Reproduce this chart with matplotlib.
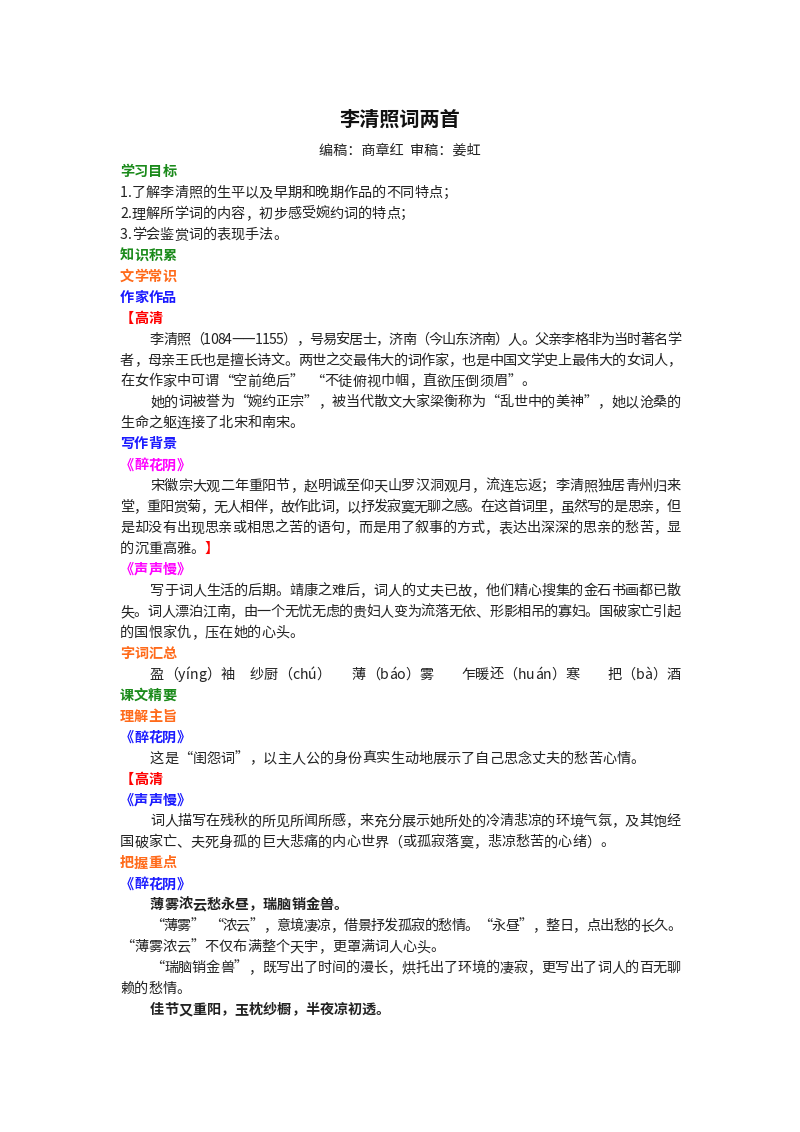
import matplotlib
matplotlib.use("Agg")
import matplotlib.pyplot as plt

plt.rcParams["font.family"] = ["Noto Sans CJK SC", "DejaVu Sans"]

GREEN = "#1a8a1a"
ORANGE = "#ff6a1a"
BLUE = "#1a1aff"
RED = "#ff0000"
MAGENTA = "#ff00ff"
BLACK = "#222222"

title = "李清照词两首"
byline = "编稿：商章红  审稿：姜虹"

# each line: (indent, bold, justify, [(text, colour), ...])
lines = [
    (0, True, False, [("学习目标", GREEN)]),
    (0, False, False, [("1.了解李清照的生平以及早期和晚期作品的不同特点；", BLACK)]),
    (0, False, False, [("2.理解所学词的内容，初步感受婉约词的特点；", BLACK)]),
    (0, False, False, [("3.学会鉴赏词的表现手法。", BLACK)]),
    (0, True, False, [("知识积累", GREEN)]),
    (0, True, False, [("文学常识", ORANGE)]),
    (0, True, False, [("作家作品", BLUE)]),
    (0, True, False, [("【高清", RED)]),
    (2, False, True, [("李清照（1084——1155），号易安居士，济南（今山东济南）人。父亲李格非为当时著名学", BLACK)]),
    (0, False, True, [("者，母亲王氏也是擅长诗文。两世之交最伟大的词作家，也是中国文学史上最伟大的女词人，", BLACK)]),
    (0, False, False, [("在女作家中可谓“空前绝后”  “不徒俯视巾帼，直欲压倒须眉”。", BLACK)]),
    (2, False, True, [("她的词被誉为“婉约正宗”，被当代散文大家梁衡称为“乱世中的美神”，她以沧桑的", BLACK)]),
    (0, False, False, [("生命之躯连接了北宋和南宋。", BLACK)]),
    (0, True, False, [("写作背景", BLUE)]),
    (0, True, False, [("《醉花阴》", MAGENTA)]),
    (2, False, True, [("宋徽宗大观二年重阳节，赵明诚至仰天山罗汉洞观月，流连忘返；李清照独居青州归来", BLACK)]),
    (0, False, True, [("堂，重阳赏菊，无人相伴，故作此词，以抒发寂寞无聊之感。在这首词里，虽然写的是思亲，但", BLACK)]),
    (0, False, True, [("是却没有出现思亲或相思之苦的语句，而是用了叙事的方式，表达出深深的思亲的愁苦，显", BLACK)]),
    (0, False, False, [("的沉重高雅。", BLACK), ("】", RED)]),
    (0, True, False, [("《声声慢》", MAGENTA)]),
    (2, False, True, [("写于词人生活的后期。靖康之难后，词人的丈夫已故，他们精心搜集的金石书画都已散", BLACK)]),
    (0, False, True, [("失。词人漂泊江南，由一个无忧无虑的贵妇人变为流落无依、形影相吊的寡妇。国破家亡引起", BLACK)]),
    (0, False, False, [("的国恨家仇，压在她的心头。", BLACK)]),
    (0, True, False, [("字词汇总", ORANGE)]),
    (2, False, False, [("盈（yíng）袖     纱厨（chú）       薄（báo）雾         乍暖还（huán）寒         把（bà）酒", BLACK)]),
    (0, True, False, [("课文精要", GREEN)]),
    (0, True, False, [("理解主旨", ORANGE)]),
    (0, True, False, [("《醉花阴》", BLUE)]),
    (2, False, False, [("这是“闺怨词”，以主人公的身份真实生动地展示了自己思念丈夫的愁苦心情。", BLACK)]),
    (0, True, False, [("【高清", RED)]),
    (0, True, False, [("《声声慢》", BLUE)]),
    (2, False, True, [("词人描写在残秋的所见所闻所感，来充分展示她所处的冷清悲凉的环境气氛，及其饱经", BLACK)]),
    (0, False, False, [("国破家亡、夫死身孤的巨大悲痛的内心世界（或孤寂落寞，悲凉愁苦的心绪）。", BLACK)]),
    (0, True, False, [("把握重点", ORANGE)]),
    (0, True, False, [("《醉花阴》", BLUE)]),
    (2, True, False, [("薄雾浓云愁永昼，瑞脑销金兽。", BLACK)]),
    (2, False, True, [("“薄雾”  “浓云”，意境凄凉，借景抒发孤寂的愁情。“永昼”，整日，点出愁的长久。", BLACK)]),
    (0, False, False, [("“薄雾浓云”不仅布满整个天宇，更罩满词人心头。", BLACK)]),
    (2, False, True, [("“瑞脑销金兽”，既写出了时间的漫长，烘托出了环境的凄寂，更写出了词人的百无聊", BLACK)]),
    (0, False, False, [("赖的愁情。", BLACK)]),
    (2, True, False, [("佳节又重阳，玉枕纱橱，半夜凉初透。", BLACK)]),
]

W, H = 800, 1132
fig = plt.figure(figsize=(W / 100, H / 100), dpi=100)
fig.patch.set_facecolor("white")
ax = fig.add_axes([0, 0, 1, 1])
ax.set_xlim(0, W)
ax.set_ylim(H, 0)
ax.axis("off")
renderer = fig.canvas.get_renderer()

FS = 10.2
LEFT, RIGHT = 120, 681
TOP, STEP = 172, 20.95

ax.text(400, 119, title, fontsize=14.5, fontweight="bold", ha="center", va="center", color="#111111")
ax.text(400, 151, byline, fontsize=FS, ha="center", va="center", color=BLACK)


def char_width(ch, bold):
    t = ax.text(0, 0, ch, fontsize=FS, fontweight="bold" if bold else "normal")
    w = t.get_window_extent(renderer).width
    t.remove()
    return w


cache = {}
for i, (indent, bold, justify, segs) in enumerate(lines):
    y = TOP + i * STEP
    x0 = LEFT + indent * 15
    chars = [(c, col) for txt, col in segs for c in txt]
    widths = []
    for c, _ in chars:
        key = (c, bold)
        if key not in cache:
            cache[key] = char_width(c, bold) if c != " " else FS * 0.3
        widths.append(cache[key])
    gap = 0.0
    if justify and len(chars) > 1:
        gap = (RIGHT - x0 - sum(widths)) / (len(chars) - 1)
    x = x0
    for (c, col), w in zip(chars, widths):
        ax.text(x, y, c, fontsize=FS, fontweight="bold" if bold else "normal",
                color=col, ha="left", va="center")
        x += w + gap

fig.savefig("out.png", dpi=100, facecolor="white")
